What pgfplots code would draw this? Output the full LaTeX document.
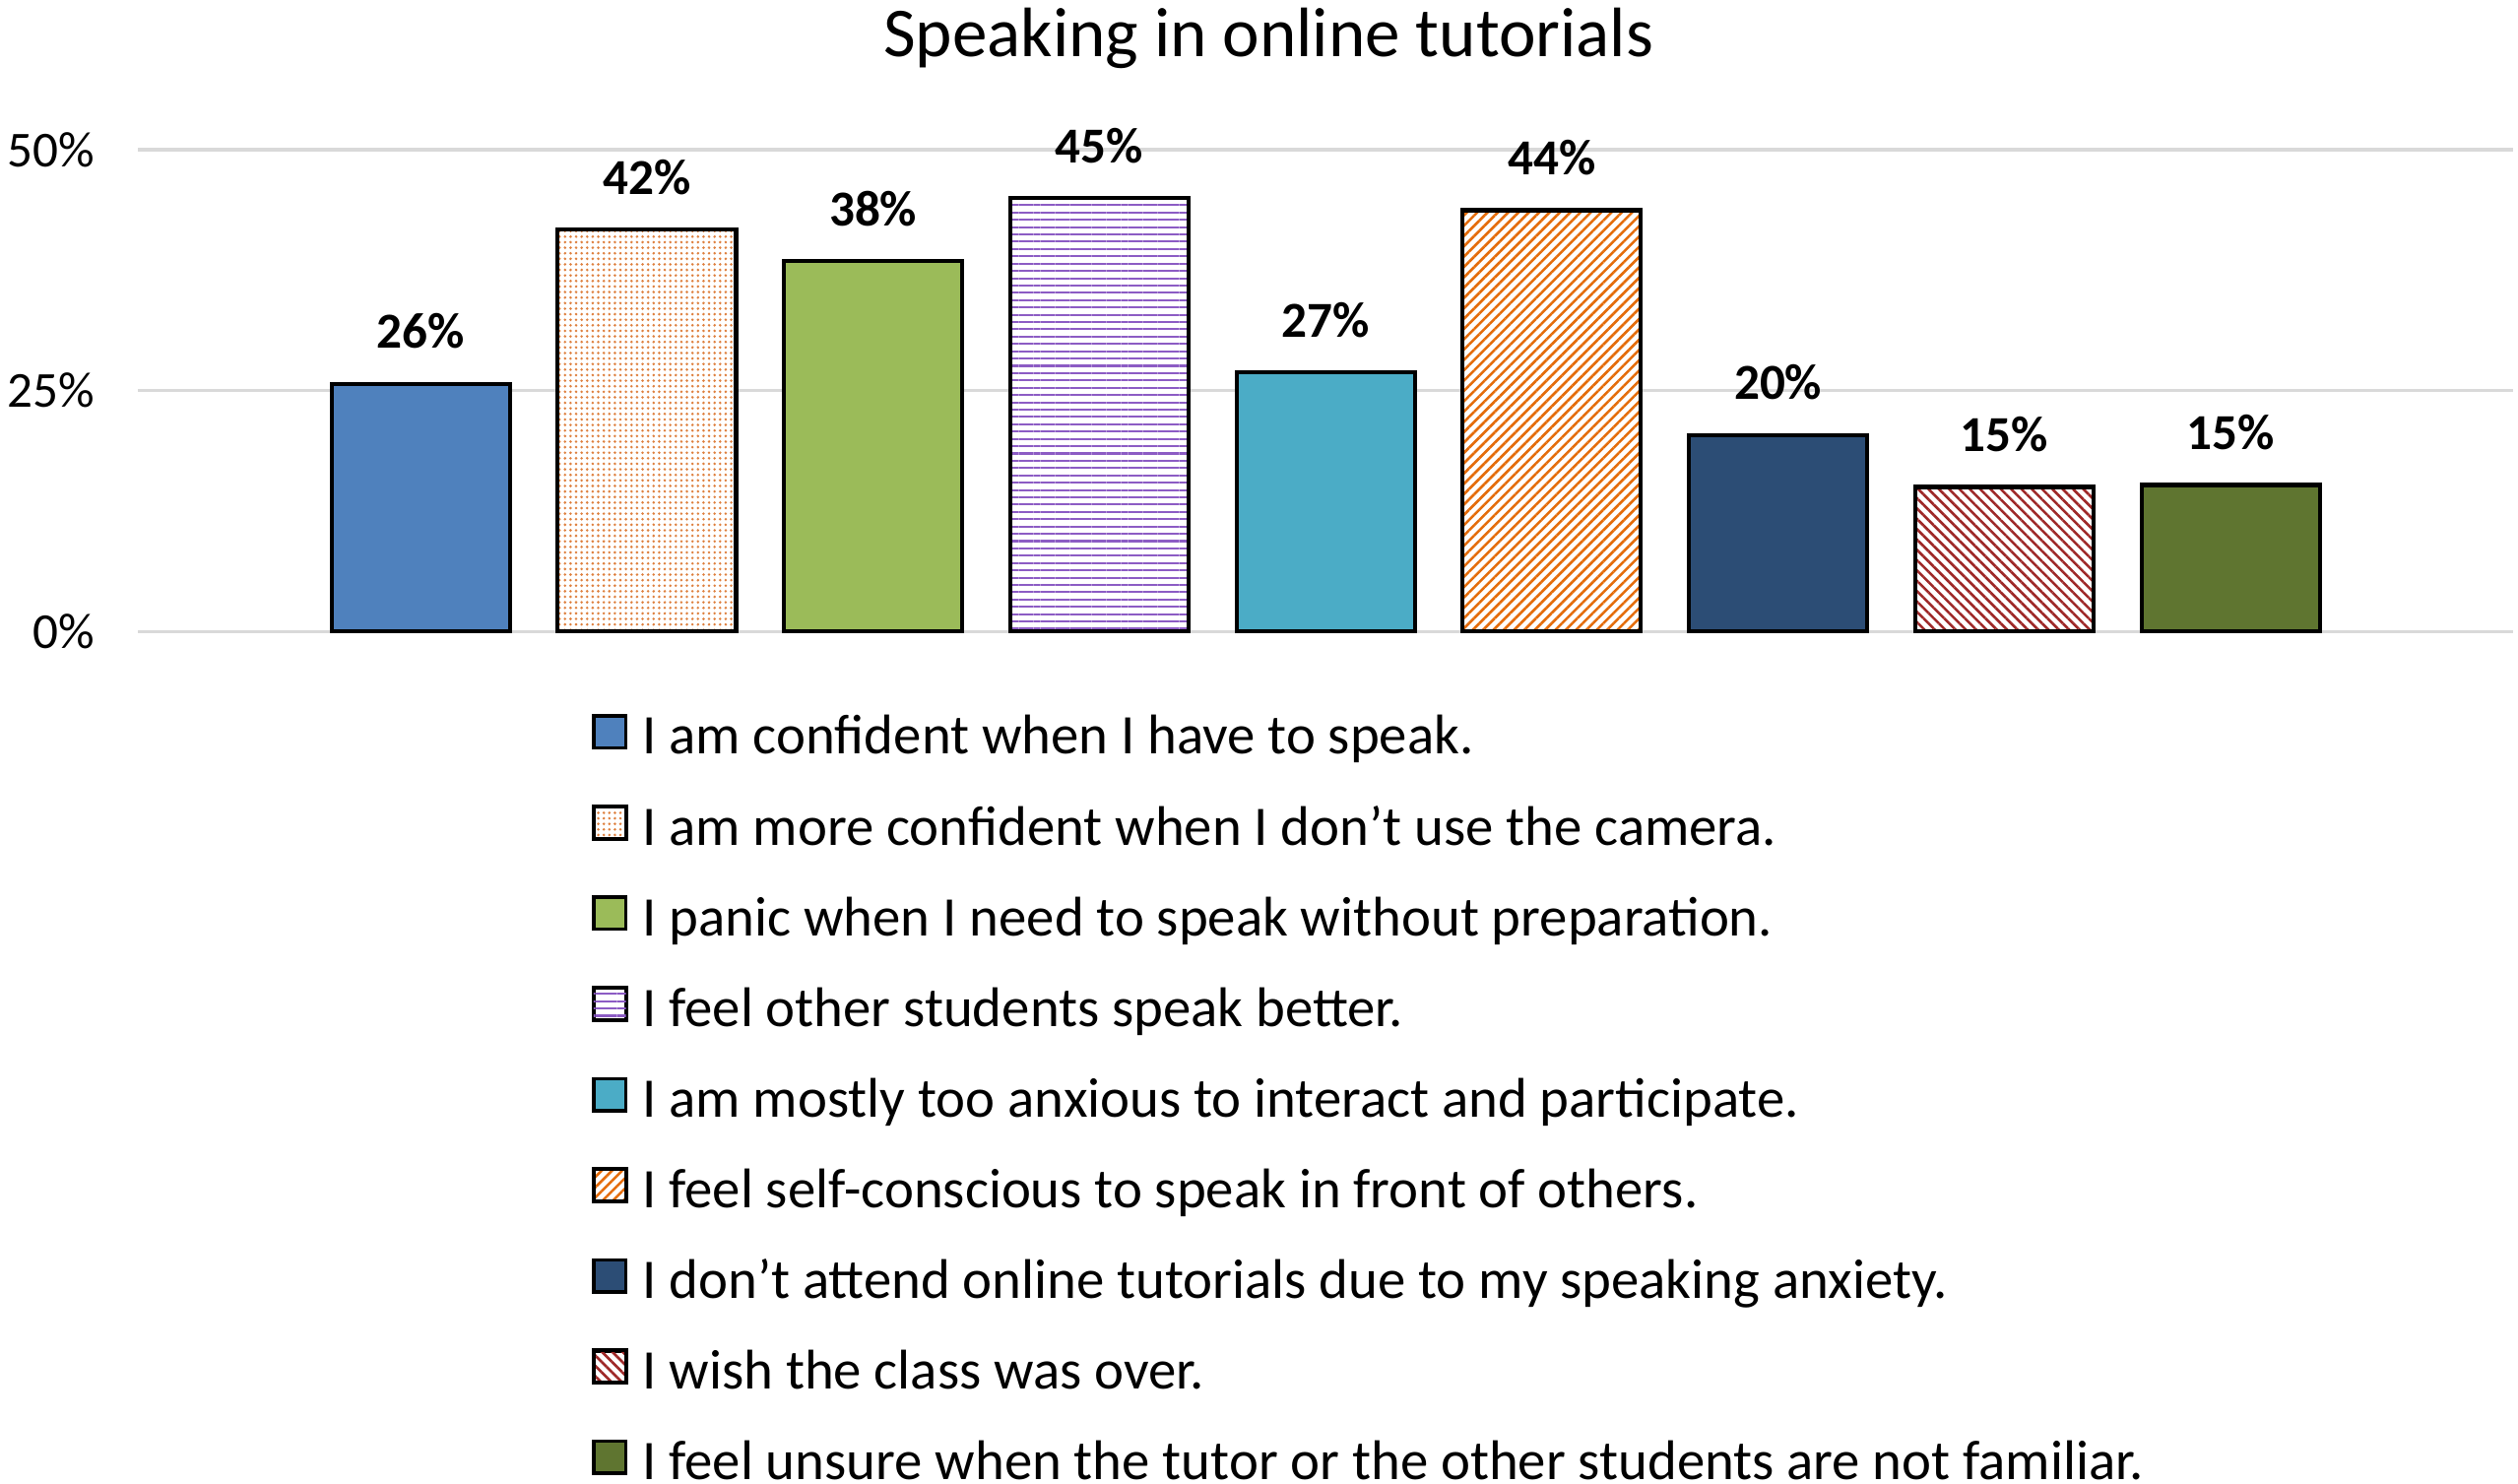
\documentclass[border=0pt]{standalone}
\usepackage{fontspec}
\setmainfont{Carlito}
\usepackage{pgfplots}
\pgfplotsset{compat=1.18}
\usetikzlibrary{patterns.meta}

\definecolor{cblue}{RGB}{79,129,189}
\definecolor{cdots}{RGB}{222,128,62}
\definecolor{cgreen}{RGB}{155,187,89}
\definecolor{cpurple}{RGB}{140,92,196}
\definecolor{cteal}{RGB}{75,172,198}
\definecolor{corange}{RGB}{228,108,10}
\definecolor{cnavy}{RGB}{44,77,117}
\definecolor{cred}{RGB}{158,40,40}
\definecolor{colive}{RGB}{95,117,48}
\definecolor{cgrid}{RGB}{217,217,217}

\pgfplotsset{
    noframe legend/.style={legend image code/.code={\fill[##1, draw=none] (0pt,-1.0pt) rectangle (6.4pt,5.4pt);}},
}

\begin{document}
\begin{tikzpicture}
\path[use as bounding box] (0,0) rectangle (500pt,294.5pt);

\node[anchor=base, font=\fontsize{13.9}{16}\selectfont] at (251.9pt,283.3pt) {Speaking in online tutorials};

\begin{axis}[
    at={(27.38pt,169.1pt)}, anchor=south west,
    scale only axis,
    width=471.7pt, height=95.7pt,
    xmin=-1.25, xmax=9.25,
    ymin=0, ymax=50,
    ybar, bar width=0.788,
    xtick=\empty,
    ytick={0,25,50},
    yticklabel={\pgfmathprintnumber{\tick}\%},
    /pgf/number format/assume math mode=true,
    yticklabel style={font=\fontsize{10}{12}\selectfont, xshift=-5pt},
    major tick length=0pt,
    axis line style={draw=none},
    ymajorgrids=true,
    grid style={cgrid, line width=0.7pt},
    clip=false,
    nodes near coords={\pgfmathprintnumber[fixed,precision=0]{\pgfplotspointmeta}\%},
    every node near coord/.append style={font=\bfseries\fontsize{10}{12}\selectfont, text=black, anchor=base, yshift=7pt},
    every axis plot/.append style={bar shift=0pt, draw=black, line width=0.8pt},
    legend image code/.code={\draw[#1, line width=0.7pt] (0pt,-1.0pt) rectangle (6.4pt,5.4pt);},
    legend cell align=left,
    legend style={at={(axis description cs:0.1906,-0.169)}, anchor=north west,
        draw=none, inner sep=0pt, column sep=2.9pt, row sep=7.5pt,
        font=\fontsize{11.1}{13}\selectfont,
        nodes={inner sep=0pt, text height=7pt, text depth=2.5pt}},
]
\addplot[fill=cblue] coordinates {(0,25.7)};
\addlegendentry{I am confident when I have to speak.}
\addplot[preaction={fill=white}, pattern={Dots[distance=1.1pt, radius=0.28pt]}, pattern color=cdots] coordinates {(1,41.7)};
\addlegendentry{I am more confident when I don’t use the camera.}
\addplot[fill=cgreen] coordinates {(2,38.4)};
\addlegendentry{I panic when I need to speak without preparation.}
\addplot[preaction={fill=white}, pattern={Lines[angle=0, distance=1.45pt, line width=0.4pt]}, pattern color=cpurple, noframe legend] coordinates {(3,45.0)};
\addlegendentry{I feel other students speak better.}
\addplot[fill=cteal] coordinates {(4,26.9)};
\addlegendentry{I am mostly too anxious to interact and participate.}
\addplot[preaction={fill=white}, pattern={Lines[angle=45, distance=1.45pt, line width=0.5pt]}, pattern color=corange] coordinates {(5,43.7)};
\addlegendentry{I feel self-conscious to speak in front of others.}
\addplot[fill=cnavy] coordinates {(6,20.4)};
\addlegendentry{I don’t attend online tutorials due to my speaking anxiety.}
\addplot[preaction={fill=white}, pattern={Lines[angle=-45, distance=1.45pt, line width=0.5pt]}, pattern color=cred] coordinates {(7,15.0)};
\addlegendentry{I wish the class was over.}
\addplot[fill=colive] coordinates {(8,15.2)};
\addlegendentry{I feel unsure when the tutor or the other students are not familiar.}
\end{axis}
\end{tikzpicture}
\end{document}
